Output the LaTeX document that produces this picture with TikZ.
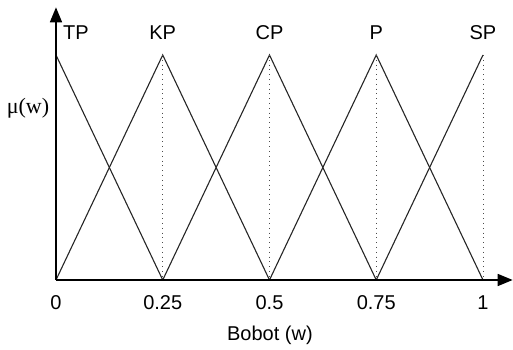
\documentclass[tikz,border=0pt]{standalone}
\usepackage{fontspec}
\setmainfont{Liberation Sans}
\newfontfamily\muserif{Liberation Serif}
\usetikzlibrary{arrows.meta}

\begin{document}
\begin{tikzpicture}[x=213.5pt,y=112.5pt]
    \useasboundingbox (-0.1311,-0.3067) rectangle (1.0703,1.2444);
    \tikzset{axis/.style={line width=0.8pt,-{Triangle[length=7.5pt,width=6pt]}},
             member/.style={line width=0.55pt,black!85},
             peak/.style={dotted,line width=0.4pt,black!70}}

    \coordinate (O) at (0,0);
    \coordinate (Q1) at (0.25,0);
    \coordinate (Q2) at (0.5,0);
    \coordinate (Q3) at (0.75,0);
    \coordinate (Q4) at (1,0);
    \coordinate (TOP0) at (0,1);
    \coordinate (TOP1) at (0.25,1);
    \coordinate (TOP2) at (0.5,1);
    \coordinate (TOP3) at (0.75,1);
    \coordinate (TOP4) at (1,1);
    \coordinate (XEND) at (1.0695,0);
    \coordinate (YEND) at (0,1.212);

    % membership triangles
    \draw[member] (TOP0) -- (Q1);
    \draw[member] (O) -- (TOP1) -- (Q2);
    \draw[member] (Q1) -- (TOP2) -- (Q3);
    \draw[member] (Q2) -- (TOP3) -- (Q4);
    \draw[member] (Q3) -- (TOP4);

    \draw[peak] (TOP1) -- (Q1);
    \draw[peak] (TOP2) -- (Q2);
    \draw[peak] (TOP3) -- (Q3);
    \draw[peak] (TOP4) -- (Q4);

    \draw[axis] (O) -- (XEND);
    \draw[axis] (O) -- (YEND);

    \node (TP) at (0.0468,1.098) {TP};
    \node (KP) at (0.25,1.098) {KP};
    \node (CP) at (0.5,1.098) {CP};
    \node (P) at (0.75,1.098) {P};
    \node (SP) at (1,1.098) {SP};

    \node (MU) at (-0.0656,0.764) {\muserif\fontsize{11pt}{13pt}\selectfont μ(w)};

    \node (T0) at (0,-0.102) {0};
    \node (T1) at (0.25,-0.102) {0.25};
    \node (T2) at (0.5,-0.102) {0.5};
    \node (T3) at (0.75,-0.102) {0.75};
    \node (T4) at (1,-0.102) {1};
    \node (XLAB) at (0.501,-0.244) {Bobot (w)};
\end{tikzpicture}
\end{document}
